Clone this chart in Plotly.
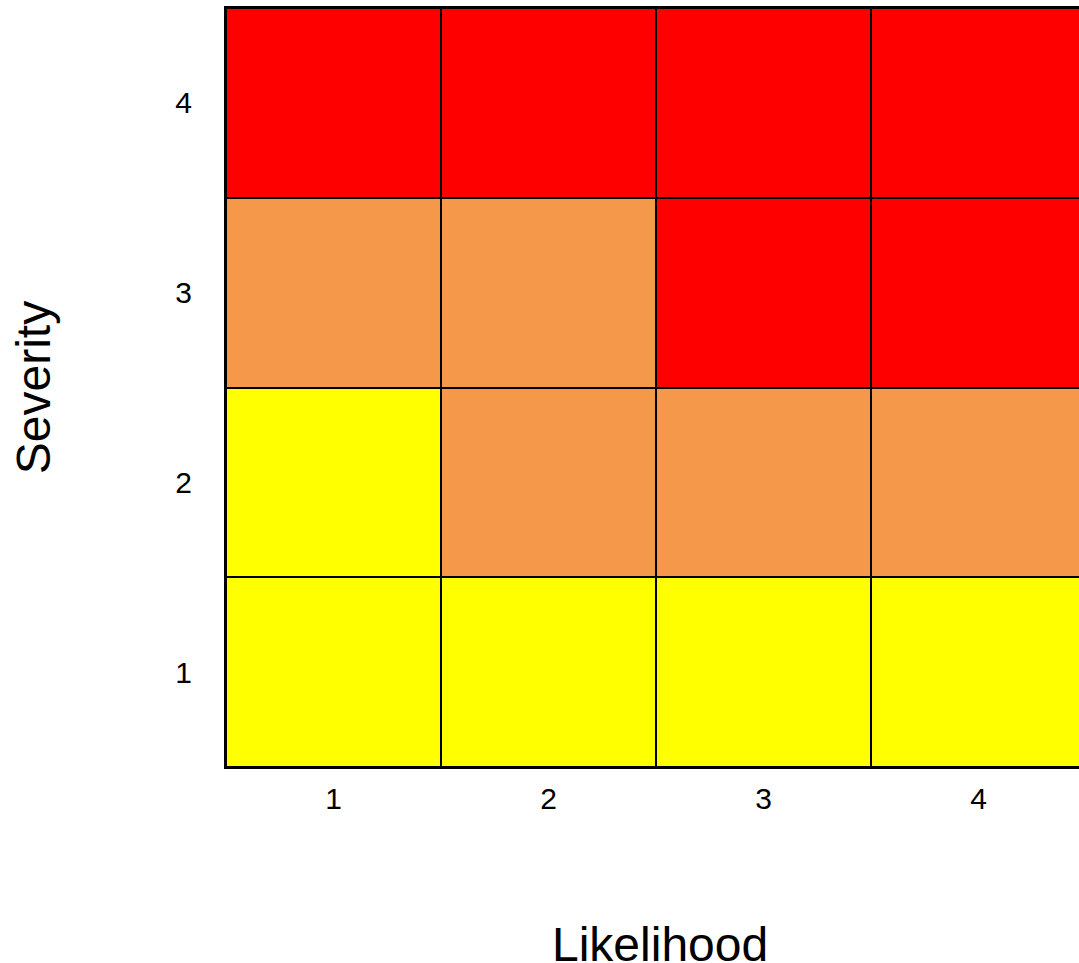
import plotly.graph_objects as go

likelihood = [1, 2, 3, 4]
severity = [1, 2, 3, 4]
# risk level per (severity row, likelihood column): 1=low, 2=medium, 3=high
risk = [
    [1, 1, 1, 1],
    [1, 2, 2, 2],
    [2, 2, 3, 3],
    [3, 3, 3, 3],
]
tick_labels = ["1", "2", "3", "4"]

colorscale = [
    [0.0, "#FFFF00"], [0.3333, "#FFFF00"],
    [0.3333, "#F5984A"], [0.6667, "#F5984A"],
    [0.6667, "#FF0000"], [1.0, "#FF0000"],
]

fig = go.Figure(go.Heatmap(
    x=likelihood, y=severity, z=risk,
    zmin=0.5, zmax=3.5,
    colorscale=colorscale, showscale=False,
    xgap=2, ygap=2, hoverinfo="skip",
))

font = dict(family="Liberation Sans, Arial, sans-serif", color="black")

fig.update_layout(
    width=1079, height=963,
    margin=dict(l=226, r=0, t=8, b=196),
    paper_bgcolor="white", plot_bgcolor="black",
    font=font,
    xaxis=dict(
        range=[0.5, 4.5 - 7 / 215], tickvals=likelihood, ticktext=tick_labels,
        showgrid=False, zeroline=False, ticks="", ticklabelstandoff=4,
        tickfont=dict(size=30), showline=True, linecolor="black", linewidth=2,
        mirror=True,
    ),
    yaxis=dict(
        range=[0.5, 4.5], tickvals=severity, ticktext=tick_labels,
        showgrid=False, zeroline=False, ticks="", ticklabelstandoff=26,
        tickfont=dict(size=30), showline=True, linecolor="black", linewidth=2,
        mirror=False,
        title=dict(text="Severity", font=dict(size=48), standoff=110),
    ),
    annotations=[dict(
        text="Likelihood", xref="paper", yref="paper",
        x=0.5088, y=-0.2345, xanchor="center", yanchor="middle",
        showarrow=False, font=dict(size=48),
    )],
)

fig.write_html(
    "out.html",
    config={"displayModeBar": False},
    post_script="document.body.style.margin='0';document.body.style.overflow='hidden';",
)
